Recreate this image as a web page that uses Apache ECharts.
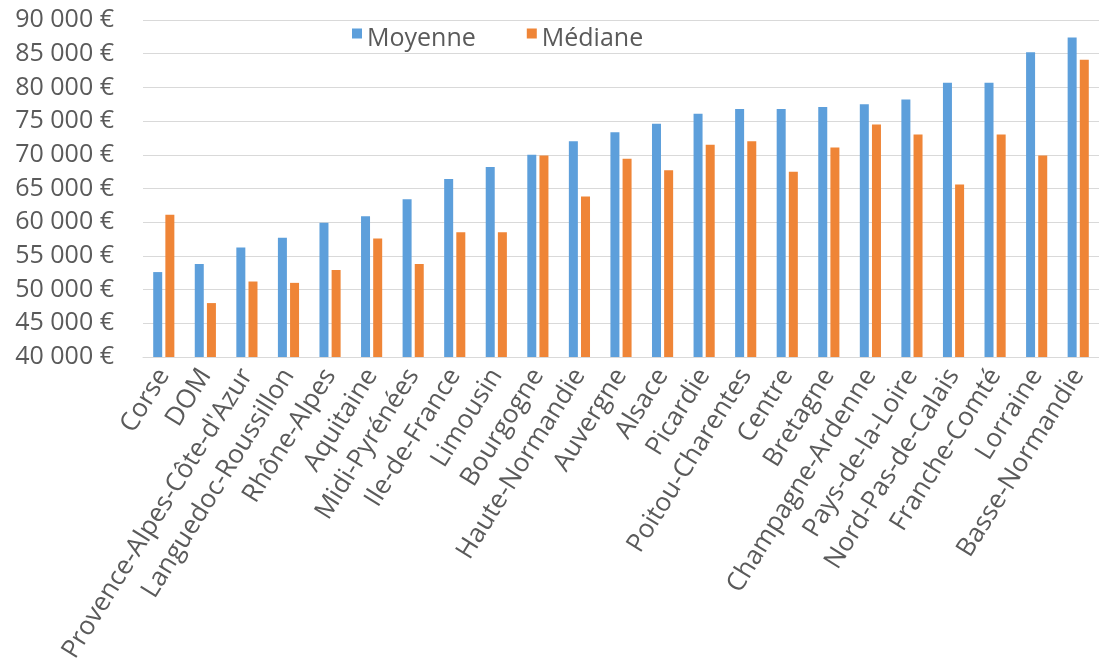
<!DOCTYPE html>
<html>
<head>
<meta charset="utf-8">
<script src="https://cdn.jsdelivr.net/npm/echarts@6/dist/echarts.min.js"></script>
<style>
html,body{margin:0;padding:0;background:#fff;}
#chart{width:1099px;height:668px;}
</style>
</head>
<body>
<div id="chart"></div>
<script>
const categories = ["Corse","DOM","Provence-Alpes-Côte-d'Azur","Languedoc-Roussillon","Rhône-Alpes","Aquitaine","Midi-Pyrénées","Ile-de-France","Limousin","Bourgogne","Haute-Normandie","Auvergne","Alsace","Picardie","Poitou-Charentes","Centre","Bretagne","Champagne-Ardenne","Pays-de-la-Loire","Nord-Pas-de-Calais","Franche-Comté","Lorraine","Basse-Normandie"];
const moyenne = [52600,53800,56250,57700,59900,60900,63400,66400,68200,70000,72000,73350,74600,76100,76800,76800,77100,77500,78200,80700,80700,85200,87400];
const mediane = [61100,48000,51200,51000,52900,57600,53800,58500,58500,69900,63800,69400,67700,71500,72000,67500,71100,74500,73000,65600,73000,69900,84100];
const seriesNames = ["Moyenne","Médiane"];

const textColor = '#5a5a5a';
const font = "'Open Sans', sans-serif";
const chart = echarts.init(document.getElementById('chart'), null, {renderer:'canvas'});
const squareIcon = 'path://M0,0H10V10H0Z M0,20L0.01,20';
chart.setOption({
  animation:false,
  color:['#5D9FDB','#EF8537'],
  legend:{
    left:347, top:21,
    itemWidth:10, itemHeight:20, itemGap:51, itemTextGap:10,
    icon:squareIcon,
    textStyle:{color:textColor, fontSize:25, fontFamily:font},
    data:seriesNames
  },
  grid:{left:143, top:20, width:966, bottom:311, containLabel:false},
  xAxis:{
    type:'category',
    data:categories,
    axisLine:{lineStyle:{color:'#d9d9d9', width:1}},
    axisTick:{show:false},
    axisLabel:{interval:0, rotate:58, margin:14, color:textColor, fontSize:26, fontFamily:font}
  },
  yAxis:{
    type:'value', min:40000, max:90000, interval:5000,
    axisLine:{show:false}, axisTick:{show:false},
    splitLine:{lineStyle:{color:'#d9d9d9', width:1}},
    axisLabel:{margin:29, color:textColor, fontSize:25, fontFamily:font,
      formatter:function(v){return String(v).replace(/\B(?=(\d{3})+(?!\d))/g,' ')+' €';}}
  },
  series:[
    {name:seriesNames[0], type:'bar', data:moyenne, barWidth:9, barGap:'35%'},
    {name:seriesNames[1], type:'bar', data:mediane, barWidth:9, barGap:'35%'}
  ]
});
</script>
</body>
</html>
